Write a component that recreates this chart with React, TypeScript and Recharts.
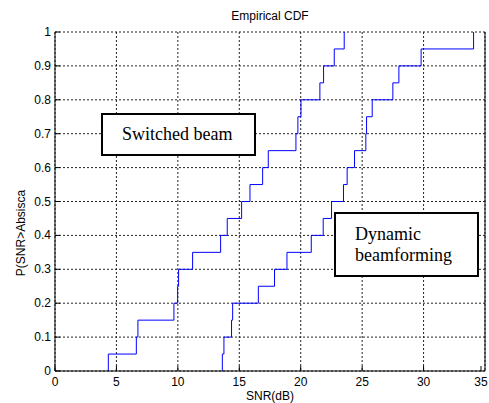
import { LineChart, Line, XAxis, YAxis, CartesianGrid, Label } from "recharts";

// axis ticks
const xTicks = [0, 5, 10, 15, 20, 25, 30, 35];
const yTicks = [0, 0.1, 0.2, 0.3, 0.4, 0.5, 0.6, 0.7, 0.8, 0.9, 1];

// empirical CDF level reached after each sample (20 samples per curve)
const cdfLevels = [
  0.05, 0.1, 0.15, 0.2, 0.25, 0.3, 0.35, 0.4, 0.45, 0.5,
  0.55, 0.6, 0.65, 0.7, 0.75, 0.8, 0.85, 0.9, 0.95, 1,
];

// sorted SNR samples (dB)
const switchedSnr = [
  4.34, 6.62, 6.75, 9.68, 9.98, 10.06, 11.2, 13.48, 14.02, 15.19,
  15.87, 16.9, 17.36, 19.61, 19.77, 20.02, 21.56, 21.86, 22.73, 23.54,
];
const dynamicSnr = [
  13.62, 13.75, 14.37, 14.46, 16.55, 17.87, 18.88, 20.86, 21.83, 22.51,
  23.48, 23.78, 24.38, 25.3, 25.36, 25.82, 27.5, 27.99, 29.8, 34.07,
];

const toEcdf = (snr: number[]) => [
  { snr: snr[0], p: 0 },
  ...snr.map((s, i) => ({ snr: s, p: cdfLevels[i] })),
];

const switchedData = toEcdf(switchedSnr);
const dynamicData = toEcdf(dynamicSnr);

const SANS = '"Liberation Sans", Arial, sans-serif';
const SERIF = '"Liberation Serif", "Times New Roman", serif';
const FONT = 12;
const IN = 5; // inward tick length

const LEFT_GAP = 4;
const BOTTOM_GAP = 6;

const LeftTick = (props: any) => {
  const { x, y, payload } = props;
  return (
    <g>
      <line x1={x + LEFT_GAP} x2={x + LEFT_GAP + IN} y1={y} y2={y} stroke="#000" />
      <text x={x} y={y} dy={4} textAnchor="end" fontSize={FONT} fontFamily={SANS} fill="#000">
        {payload.value}
      </text>
    </g>
  );
};

const BottomTick = (props: any) => {
  const { x, y, payload } = props;
  return (
    <g>
      <line x1={x} x2={x} y1={y - BOTTOM_GAP} y2={y - BOTTOM_GAP - IN} stroke="#000" />
      <text x={x} y={y} dy={8.5} textAnchor="middle" fontSize={FONT} fontFamily={SANS} fill="#000">
        {payload.value}
      </text>
    </g>
  );
};

const RightTick = (props: any) => {
  const { x, y } = props;
  return <line x1={x} x2={x - IN} y1={y} y2={y} stroke="#000" />;
};

const TopTick = (props: any) => {
  const { x, y } = props;
  return <line x1={x} x2={x} y1={y} y2={y + IN} stroke="#000" />;
};

const boxStyle: React.CSSProperties = {
  position: "absolute",
  boxSizing: "border-box",
  border: "2px solid #000",
  background: "#fff",
  fontFamily: SERIF,
  fontSize: 18,
  color: "#000",
  whiteSpace: "nowrap",
};

export default function App() {
  return (
    <div style={{ position: "absolute", left: 0, top: 0, width: 489, height: 403, background: "#fff" }}>
      <LineChart width={489} height={403} margin={{ top: 32, right: 0, bottom: 0, left: 0 }}>
        <CartesianGrid stroke="#222" strokeDasharray="2 2" />
        <XAxis
          type="number"
          dataKey="snr"
          domain={[0, 35]}
          ticks={xTicks}
          height={32}
          axisLine={{ stroke: "#000" }}
          tickLine={false}
          tickSize={0}
          tickMargin={BOTTOM_GAP}
          tick={<BottomTick />}
          allowDataOverflow
        >
          <Label value="SNR(dB)" position="insideBottom" offset={3} fontSize={FONT} fontFamily={SANS} fill="#000" />
        </XAxis>
        <XAxis
          xAxisId="top"
          orientation="top"
          type="number"
          domain={[0, 35]}
          ticks={xTicks}
          height={0}
          axisLine={{ stroke: "#000" }}
          tickLine={false}
          tickSize={0}
          tickMargin={0}
          tick={<TopTick />}
        />
        <YAxis
          type="number"
          domain={[0, 1]}
          ticks={yTicks}
          width={55}
          axisLine={{ stroke: "#000" }}
          tickLine={false}
          tickSize={0}
          tickMargin={LEFT_GAP}
          tick={<LeftTick />}
        />
        <YAxis
          yAxisId="right"
          orientation="right"
          type="number"
          domain={[0, 1]}
          ticks={yTicks}
          width={4}
          axisLine={{ stroke: "#000" }}
          tickLine={false}
          tickSize={0}
          tickMargin={0}
          tick={<RightTick />}
        />
        <Line
          data={switchedData}
          dataKey="p"
          type="stepAfter"
          stroke="#0000ff"
          strokeWidth={1}
          dot={false}
          isAnimationActive={false}
        />
        <Line
          data={dynamicData}
          dataKey="p"
          type="stepAfter"
          stroke="#0000ff"
          strokeWidth={1}
          dot={false}
          isAnimationActive={false}
        />
      </LineChart>

      <div
        style={{
          position: "absolute",
          left: 0,
          top: 10,
          width: 540,
          textAlign: "center",
          fontFamily: SANS,
          fontSize: FONT,
          lineHeight: "12px",
        }}
      >
        Empirical CDF
      </div>

      <div
        style={{
          position: "absolute",
          left: 21 - 100,
          top: 233 - 7,
          width: 200,
          height: 14,
          lineHeight: "14px",
          textAlign: "center",
          transform: "rotate(-90deg)",
          fontFamily: SANS,
          fontSize: FONT,
          whiteSpace: "nowrap",
        }}
      >
        P(SNR&gt;Absisca
      </div>

      <div style={{ ...boxStyle, left: 101, top: 113, width: 155, height: 43, paddingLeft: 19, lineHeight: "39px" }}>
        Switched beam
      </div>

      <div
        style={{
          ...boxStyle,
          left: 334,
          top: 212,
          width: 145,
          height: 65,
          paddingLeft: 19,
          paddingTop: 10,
          lineHeight: "21px",
        }}
      >
        Dynamic
        <br />
        beamforming
      </div>
    </div>
  );
}
